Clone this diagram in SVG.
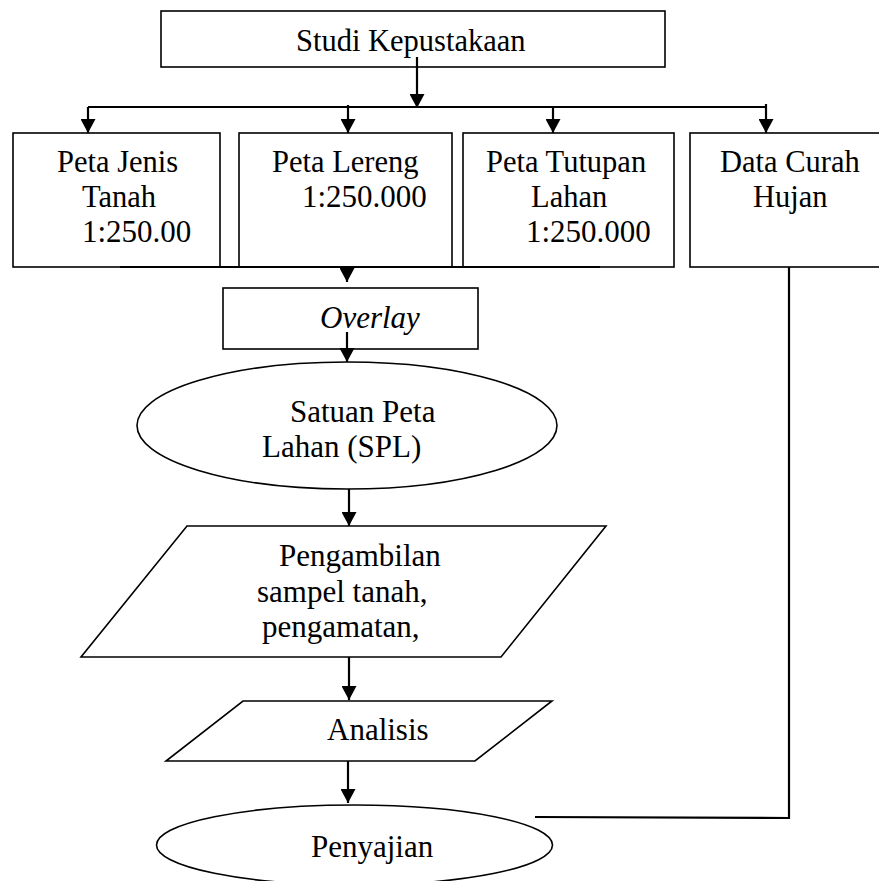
<svg xmlns="http://www.w3.org/2000/svg" width="879" height="881" viewBox="0 0 879 881">
  <defs>
    <marker id="arr" markerUnits="userSpaceOnUse" markerWidth="15" markerHeight="15" refX="14" refY="7.5" orient="auto">
      <path d="M0,0 L14,7.5 L0,15 z" fill="#000"/>
    </marker>
    <style>
      .box { fill: #fff; stroke: #000; stroke-width: 1.6; }
      .con { fill: none; stroke: #000; stroke-width: 2.2; }
      .t { font-family: "Liberation Serif", "Times New Roman", serif; font-size: 31px; fill: #000; }
      .c { font-family: "Liberation Serif", "Times New Roman", serif; font-size: 30.5px; fill: #000; }
      .i { font-style: italic; }
    </style>
  </defs>
  <rect width="879" height="881" fill="#fff"/>

  <g id="studi">
    <rect class="box" x="161" y="11" width="504" height="56"/>
    <text class="c" x="296" y="51">Studi Kepustakaan</text>
  </g>
  <g id="jenis-tanah">
    <rect class="box" x="13" y="133" width="207" height="134"/>
    <text class="c" x="57" y="172">Peta Jenis</text>
    <text class="c" x="82" y="207">Tanah</text>
    <text class="t" x="82" y="242">1:250.00</text>
  </g>
  <g id="lereng">
    <rect class="box" x="239" y="133" width="213" height="134"/>
    <text class="c" x="272" y="172">Peta Lereng</text>
    <text class="t" x="302" y="207">1:250.000</text>
  </g>
  <g id="tutupan">
    <rect class="box" x="463" y="133" width="211" height="134"/>
    <text class="c" x="486" y="172">Peta Tutupan</text>
    <text class="c" x="531" y="207">Lahan</text>
    <text class="t" x="526" y="242">1:250.000</text>
  </g>
  <g id="curah-hujan">
    <rect class="box" x="690" y="133" width="200" height="134"/>
    <text class="c" x="720" y="172">Data Curah</text>
    <text class="c" x="753" y="207">Hujan</text>
  </g>
  <g id="overlay">
    <rect class="box" x="223" y="288" width="255" height="61"/>
    <text class="t i" x="320" y="328">Overlay</text>
  </g>
  <g id="spl">
    <ellipse class="box" cx="347" cy="425.5" rx="210" ry="63.5"/>
    <text class="t" x="290" y="422">Satuan Peta</text>
    <text class="t" x="262" y="457">Lahan (SPL)</text>
  </g>
  <g id="pengambilan">
    <polygon class="box" points="187,526 606,526 501,657 81,657"/>
    <text class="t" x="279" y="566">Pengambilan</text>
    <text class="t" x="257" y="602">sampel tanah,</text>
    <text class="t" x="262" y="637">pengamatan,</text>
  </g>
  <g id="analisis">
    <polygon class="box" points="243,701 552,701 475,761 166,761"/>
    <text class="t" x="327" y="740">Analisis</text>
  </g>
  <g id="penyajian">
    <ellipse class="box" cx="354.5" cy="845" rx="198" ry="40"/>
    <text class="t" x="311" y="857">Penyajian</text>
  </g>

  <g id="connectors">
    <path class="con" d="M417,57 L417,108" marker-end="url(#arr)"/>
    <path class="con" d="M88,107 L766,107"/>
    <path class="con" d="M88,107 L88,133" marker-end="url(#arr)"/>
    <path class="con" d="M348,105 L348,133" marker-end="url(#arr)"/>
    <path class="con" d="M553,107 L553,133" marker-end="url(#arr)"/>
    <path class="con" d="M766,104 L766,133" marker-end="url(#arr)"/>
    <path class="con" d="M120,267 L600,267"/>
    <path class="con" d="M347,266 L347,282" marker-end="url(#arr)"/>
    <path class="con" d="M347,332 L347,362" marker-end="url(#arr)"/>
    <path class="con" d="M349,489 L349,526" marker-end="url(#arr)"/>
    <path class="con" d="M349,657 L349,700" marker-end="url(#arr)"/>
    <path class="con" d="M348,761 L348,803" marker-end="url(#arr)"/>
    <path class="con" d="M789,267 L789,818 L535,817"/>
  </g>
</svg>
